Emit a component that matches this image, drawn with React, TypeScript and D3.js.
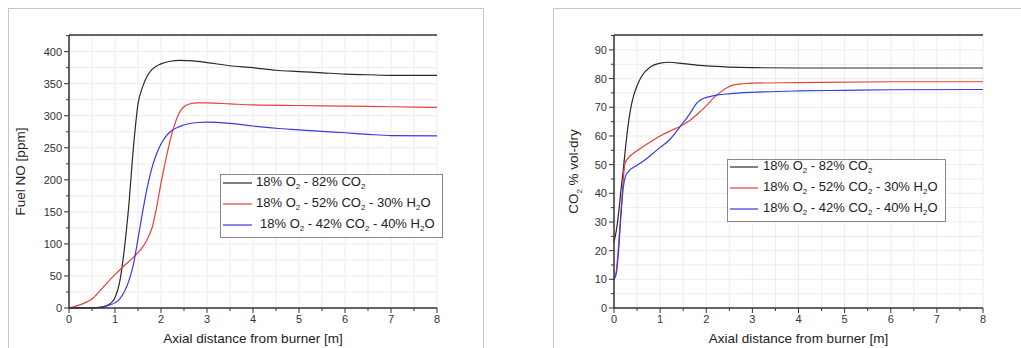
import React from "react";
import * as d3 from "d3";

// ---------- Data ----------
const xTicks = [0, 1, 2, 3, 4, 5, 6, 7, 8];
const noTicks = [0, 50, 100, 150, 200, 250, 300, 350, 400];
const co2Ticks = [0, 10, 20, 30, 40, 50, 60, 70, 80, 90];

const seriesNames = [
  ["18% O", "2", " - 82% CO", "2"],
  ["18% O", "2", " - 52% CO", "2", " - 30% H", "2", "O"],
  ["18% O", "2", " - 42% CO", "2", " - 40% H", "2", "O"],
];
const seriesColors = ["#2a2a2a", "#e5403c", "#3a3ae0"];

// Fuel NO [ppm]
const noBlack: [number, number][] = [
  [0, 0], [0.5, 0.3], [0.7, 1], [0.8, 3], [0.9, 7], [1.0, 16], [1.1, 40], [1.2, 90], [1.3, 160],
  [1.4, 250], [1.5, 318], [1.6, 345], [1.7, 362], [1.8, 372], [2.0, 381], [2.2, 385], [2.4, 386.5],
  [2.7, 385.5], [3.0, 383], [3.5, 378], [4.0, 375], [4.5, 371], [5.0, 369], [5.5, 367], [6.0, 365],
  [6.5, 364], [7.0, 363], [8.0, 363],
];
const noRed: [number, number][] = [
  [0, 0], [0.2, 4], [0.4, 10], [0.5, 14], [0.6, 21], [0.8, 37], [1.0, 52], [1.2, 66], [1.4, 79],
  [1.6, 95], [1.7, 107], [1.8, 124], [1.9, 155], [2.0, 195], [2.1, 230], [2.2, 262], [2.27, 280],
  [2.4, 305], [2.5, 314], [2.6, 318], [2.8, 320], [3.0, 320], [3.5, 318.5], [4.0, 317], [5.0, 316],
  [6.0, 315], [7.0, 314], [8.0, 313],
];
const noBlue: [number, number][] = [
  [0, 0], [0.5, 0.3], [0.8, 3], [1.0, 8], [1.1, 14], [1.2, 25], [1.3, 42], [1.4, 68], [1.5, 108],
  [1.6, 150], [1.7, 188], [1.8, 218], [1.9, 240], [2.0, 256], [2.1, 267], [2.2, 275], [2.4, 283],
  [2.6, 287.5], [2.8, 289.5], [3.0, 290], [3.5, 288], [4.0, 284], [4.5, 280.5], [5.0, 278],
  [5.5, 275.5], [6.0, 273.5], [6.5, 271], [7.0, 269], [8.0, 268.5],
];

// CO2 % vol-dry
const co2Black: [number, number][] = [
  [0, 23], [0.05, 27], [0.1, 33], [0.15, 41], [0.2, 48], [0.25, 56], [0.3, 63], [0.35, 68.5],
  [0.4, 72.5], [0.5, 77.5], [0.6, 80.8], [0.8, 84.2], [1.0, 85.4], [1.2, 85.7], [1.5, 85.2],
  [2.0, 84.4], [2.5, 84.0], [3.0, 83.8], [4.0, 83.7], [8.0, 83.7],
];
const co2Red: [number, number][] = [
  [0, 10], [0.05, 13], [0.1, 22], [0.17, 38], [0.24, 50.5], [0.35, 53], [0.5, 54.8], [0.75, 57.5],
  [1.0, 60], [1.25, 62], [1.45, 63.5], [1.65, 65.5], [1.8, 67.5], [2.0, 70.5], [2.15, 73.1],
  [2.3, 75.2], [2.45, 76.8], [2.6, 77.8], [2.8, 78.2], [3.0, 78.4], [4.0, 78.6], [6.0, 78.9],
  [8.0, 78.9],
];
const co2Blue: [number, number][] = [
  [0, 10], [0.05, 12], [0.1, 20], [0.15, 32], [0.2, 42], [0.25, 46], [0.31, 47.5], [0.5, 49.8],
  [0.67, 51.6], [0.85, 54], [1.0, 56], [1.2, 58.6], [1.43, 63.2], [1.65, 67.9], [1.8, 71.5],
  [1.9, 72.8], [2.05, 73.6], [2.25, 74.3], [2.5, 74.7], [3.0, 75.2], [4.0, 75.7], [5.0, 75.9],
  [6.0, 76.1], [8.0, 76.2],
];

// ---------- Components ----------
const FONT = "'Liberation Sans', Arial, sans-serif";

function LegendLabel({ parts, x, y }: { parts: string[]; x: number; y: number }) {
  return (
    <text x={x} y={y} fontSize={13} fontFamily={FONT} fill="#222" dominantBaseline="middle">
      {parts.map((p, i) =>
        i % 2 === 1 && p === "2" ? (
          <tspan key={i} fontSize={8} dy={4}>{p}</tspan>
        ) : (
          <tspan key={i} dy={i > 0 && parts[i - 1] === "2" ? -4 : 0}>{p}</tspan>
        )
      )}
    </text>
  );
}

function Panel(props: {
  left: number; right: number; top: number; bottom: number;
  yMax: number; yTicks: number[]; yMinorStep: number;
  series: [number, number][][];
  yLabel: React.ReactNode;
  yLabelX: number;
  legend: { x0: number; y0: number; x1: number; y1: number; rows: number[]; lineX0: number; lineX1: number; textX: number; textOffsets?: number[] };
  frame: { x: number; y: number; w: number; h: number };
}) {
  const { left, right, top, bottom, yMax, yTicks, yMinorStep, series, legend, frame } = props;
  const x = d3.scaleLinear().domain([0, 8]).range([left, right]);
  const y = d3.scaleLinear().domain([0, yMax]).range([bottom, top]);
  const line = d3.line<[number, number]>().x(d => x(d[0])).y(d => y(d[1])).curve(d3.curveMonotoneX);
  const xMinor = d3.range(0, 8.001, 0.5);
  const yMinor = d3.range(0, yMax + 0.001, yMinorStep);
  return (
    <g>
      <rect x={frame.x + 0.5} y={frame.y + 0.5} width={frame.w} height={frame.h} fill="white" stroke="#c8c8c8" />
      {/* grid */}
      {xMinor.map((v, i) => (
        <line key={"gx" + i} x1={x(v)} x2={x(v)} y1={top} y2={bottom} stroke="#ececec" strokeWidth={1} />
      ))}
      {yMinor.map((v, i) => (
        <line key={"gy" + i} x1={left} x2={right} y1={y(v)} y2={y(v)} stroke="#ececec" strokeWidth={1} />
      ))}
      {/* series */}
      {series.map((s, i) => (
        <path key={"s" + i} d={line(s) || ""} fill="none" stroke={seriesColors[i]} strokeWidth={1.2} />
      ))}
      {/* axes */}
      <line x1={left} x2={right} y1={top} y2={top} stroke="#333" strokeWidth={1.5} />
      <line x1={left} x2={right} y1={bottom} y2={bottom} stroke="#333" strokeWidth={1.5} />
      <line x1={left} x2={left} y1={top} y2={bottom} stroke="#333" strokeWidth={1.5} />
      {xMinor.map((v, i) => (
        <line key={"tx" + i} x1={x(v)} x2={x(v)} y1={bottom} y2={bottom + (v % 1 === 0 ? 5 : 3)} stroke="#333" strokeWidth={1} />
      ))}
      {yMinor.map((v, i) => (
        <line key={"ty" + i} x1={left} x2={left - (yTicks.includes(v) ? 5 : 3)} y1={y(v)} y2={y(v)} stroke="#333" strokeWidth={1} />
      ))}
      {xTicks.map(v => (
        <text key={"lx" + v} x={x(v)} y={bottom + 15} textAnchor="middle" fontSize={11} fontFamily={FONT} fill="#333">{v}</text>
      ))}
      {yTicks.map(v => (
        <text key={"ly" + v} x={left - 7} y={y(v) + 4} textAnchor="end" fontSize={11} fontFamily={FONT} fill="#333">{v}</text>
      ))}
      <text x={(left + right) / 2} y={bottom + 35} textAnchor="middle" fontSize={13.5} fontFamily={FONT} fill="#222">
        Axial distance from burner [m]
      </text>
      <g transform={`translate(${props.yLabelX},${(top + bottom) / 2}) rotate(-90)`}>
        {props.yLabel}
      </g>
      {/* legend */}
      <rect x={legend.x0 + 0.5} y={legend.y0 + 0.5} width={legend.x1 - legend.x0} height={legend.y1 - legend.y0} fill="white" stroke="#888" />
      {legend.rows.map((ry, i) => (
        <g key={"lg" + i}>
          <line x1={legend.lineX0} x2={legend.lineX1} y1={ry} y2={ry} stroke={seriesColors[i]} strokeWidth={1.2} />
          <LegendLabel parts={seriesNames[i]} x={legend.textX + (legend.textOffsets ? legend.textOffsets[i] : 0)} y={ry} />
        </g>
      ))}
    </g>
  );
}

export default function App() {
  return (
    <svg width={1021} height={348} style={{ position: "absolute", left: 0, top: 0, background: "white" }}>
      <Panel
        left={69} right={437} top={35} bottom={308}
        yMax={426} yTicks={noTicks} yMinorStep={25}
        series={[noBlack, noRed, noBlue]}
        yLabelX={25}
        yLabel={<text textAnchor="middle" fontSize={13.5} fontFamily={FONT} fill="#222" dy={0}>Fuel NO [ppm]</text>}
        legend={{ x0: 220, y0: 174, x1: 442, y1: 237, rows: [183, 204, 225], lineX0: 223, lineX1: 252, textX: 256, textOffsets: [0, 0, 4] }}
        frame={{ x: 8, y: 8, w: 475, h: 350 }}
      />
      <Panel
        left={614} right={983} top={35} bottom={308}
        yMax={95.2} yTicks={co2Ticks} yMinorStep={5}
        series={[co2Black, co2Red, co2Blue]}
        yLabelX={578}
        yLabel={
          <text textAnchor="middle" fontSize={13.5} fontFamily={FONT} fill="#222">
            <tspan>CO</tspan><tspan fontSize={8} dy={4}>2</tspan><tspan dy={-4}> % vol-dry</tspan>
          </text>
        }
        legend={{ x0: 727, y0: 159, x1: 945, y1: 221, rows: [167, 188, 209], lineX0: 730, lineX1: 758, textX: 763 }}
        frame={{ x: 553, y: 8, w: 480, h: 350 }}
      />
    </svg>
  );
}
